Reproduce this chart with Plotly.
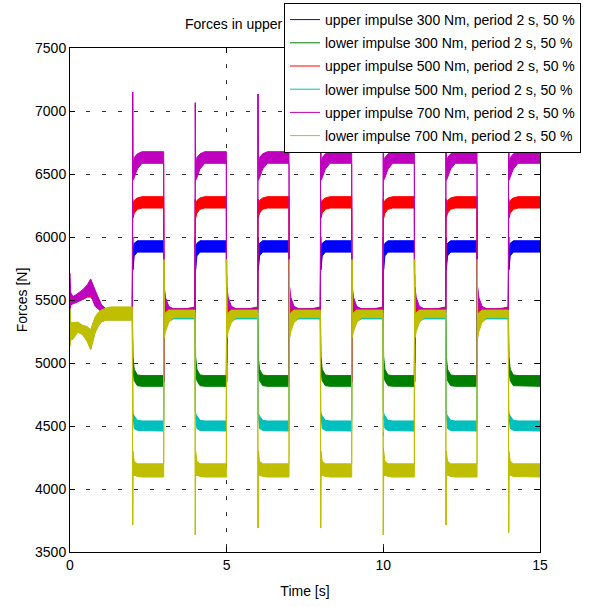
import plotly.graph_objects as go

# ---- series definitions -------------------------------------------------
series_names = [
    "upper impulse 300 Nm, period 2 s, 50 %",
    "lower impulse 300 Nm, period 2 s, 50 %",
    "upper impulse 500 Nm, period 2 s, 50 %",
    "lower impulse 500 Nm, period 2 s, 50 %",
    "upper impulse 700 Nm, period 2 s, 50 %",
    "lower impulse 700 Nm, period 2 s, 50 %",
]
series_colors = ["#0000ff", "#008000", "#ff0000", "#00bfbf", "#bf00bf", "#bfbf00"]

# impulse timing [s]
pulse_starts = [2, 4, 6, 8, 10, 12, 14]
t_end = 15

# start-up segment before the first impulse [s]
init_t = [0.0, 0.02, 0.1, 0.25, 0.4, 0.55, 0.66, 0.8, 0.9, 1.0, 1.15, 1.3, 1.99]

# oscillation envelopes (min / max force, N) during start-up
blue_init_lo = [5430, 5480, 5490, 5495, 5505, 5525, 5525, 5490, 5445, 5410, 5395, 5392, 5392]
blue_init_hi = [5550, 5520, 5520, 5525, 5535, 5560, 5580, 5540, 5500, 5450, 5425, 5425, 5425]
green_init_lo = [5200, 5200, 5210, 5250, 5230, 5180, 5120, 5250, 5300, 5330, 5345, 5345, 5345]
green_init_hi = [5400, 5310, 5300, 5310, 5290, 5270, 5240, 5350, 5390, 5410, 5425, 5430, 5430]
red_init_lo = [5430, 5480, 5485, 5495, 5505, 5525, 5525, 5485, 5445, 5410, 5395, 5392, 5392]
red_init_hi = [5620, 5550, 5530, 5535, 5550, 5585, 5620, 5565, 5520, 5460, 5428, 5428, 5428]
cyan_init_lo = [5150, 5190, 5205, 5248, 5228, 5175, 5110, 5245, 5295, 5328, 5342, 5342, 5342]
cyan_init_hi = [5420, 5320, 5310, 5318, 5295, 5280, 5255, 5358, 5395, 5415, 5430, 5440, 5440]
magenta_init_lo = [5420, 5460, 5470, 5485, 5500, 5525, 5540, 5450, 5430, 5405, 5395, 5390, 5390]
magenta_init_hi = [5714, 5560, 5525, 5555, 5580, 5620, 5667, 5580, 5520, 5460, 5430, 5430, 5430]
yellow_init_lo = [5130, 5180, 5190, 5245, 5225, 5170, 5105, 5240, 5290, 5325, 5340, 5340, 5340]
yellow_init_hi = [5436, 5320, 5320, 5325, 5300, 5290, 5265, 5365, 5400, 5420, 5436, 5445, 5445]

# one impulse cycle, times relative to the impulse start [s]
cycle_rel_t = [0.0, 0.01, 0.05, 0.15, 0.3, 0.99, 1.0, 1.01, 1.05, 1.15, 1.3, 1.99]

# oscillation envelopes (min / max force, N) over one cycle
blue_cycle_lo = [6000, 5740, 5850, 5880, 5880, 5880, 5150, 5400, 5395, 5395, 5395, 5395]
blue_cycle_hi = [6000, 5900, 5950, 5970, 5970, 5970, 5150, 5480, 5450, 5430, 5425, 5425]
green_cycle_lo = [5050, 4940, 4860, 4820, 4815, 4815, 5600, 5300, 5330, 5360, 5370, 5390]
green_cycle_hi = [5050, 5050, 4950, 4905, 4900, 4900, 5600, 5380, 5390, 5400, 5410, 5445]
red_cycle_lo = [6300, 6150, 6190, 6220, 6230, 6230, 5000, 5420, 5400, 5395, 5395, 5395]
red_cycle_hi = [6300, 6260, 6290, 6310, 6320, 6320, 5000, 5520, 5470, 5440, 5430, 5430]
cyan_cycle_lo = [4620, 4560, 4480, 4465, 4460, 4460, 5700, 5250, 5290, 5330, 5350, 5350]
cyan_cycle_hi = [4620, 4600, 4580, 4545, 4540, 4540, 5700, 5350, 5380, 5390, 5395, 5395]
magenta_cycle_lo = [None, 6450, 6470, 6540, 6585, 6585, 4850, 5480, 5440, 5410, 5400, 5400]
magenta_cycle_hi = [None, 6560, 6630, 6660, 6677, 6677, 4850, 5600, 5520, 5450, 5430, 5430]
yellow_cycle_lo = [None, 4100, 4110, 4100, 4095, 4095, 5820, 5200, 5250, 5320, 5360, 5360]
yellow_cycle_hi = [None, 4300, 4220, 4200, 4200, 4200, 5820, 5380, 5400, 5420, 5420, 5420]

# switching peaks of each impulse [N]
magenta_on_peak = [7150, 7065, 7135, 7100, 7110, 7090, 7120]
yellow_on_trough = [3714, 3635, 3690, 3690, 3635, 3714, 3655]


def envelope(init_lo, init_hi, cyc_lo, cyc_hi, switch_vals=None):
    """Assemble the min/max envelope of a force signal over the whole run."""
    t, lo, hi = list(init_t), list(init_lo), list(init_hi)
    for k, start in enumerate(pulse_starts):
        for j, rel in enumerate(cycle_rel_t):
            tt = start + rel
            if tt >= t_end:
                break
            l, h = cyc_lo[j], cyc_hi[j]
            if l is None:
                l = h = switch_vals[k]
            t.append(tt)
            lo.append(l)
            hi.append(h)
    t.append(t_end)
    lo.append(lo[-1])
    hi.append(hi[-1])
    return t, lo, hi


envelopes = [
    envelope(blue_init_lo, blue_init_hi, blue_cycle_lo, blue_cycle_hi),
    envelope(green_init_lo, green_init_hi, green_cycle_lo, green_cycle_hi),
    envelope(red_init_lo, red_init_hi, red_cycle_lo, red_cycle_hi),
    envelope(cyan_init_lo, cyan_init_hi, cyan_cycle_lo, cyan_cycle_hi),
    envelope(magenta_init_lo, magenta_init_hi, magenta_cycle_lo, magenta_cycle_hi, magenta_on_peak),
    envelope(yellow_init_lo, yellow_init_hi, yellow_cycle_lo, yellow_cycle_hi, yellow_on_trough),
]

fig = go.Figure()

# oscillation bands: drawn as closed min/max outlines
for (t, lo, hi), name, color in zip(envelopes, series_names, series_colors):
    fig.add_trace(go.Scatter(
        x=t + t[::-1], y=hi + lo[::-1],
        mode="lines", fill="toself", fillcolor=color,
        line=dict(color=color, width=1),
        name=name, showlegend=False, hoverinfo="skip",
    ))

# legend entries as plain line samples
for i, (name, color) in enumerate(zip(series_names, series_colors)):
    fig.add_trace(go.Scatter(
        x=[None], y=[None], mode="lines", name=name,
        line=dict(color=color, width=1), legendgroup=f"g{i}",
    ))

font_family = "Liberation Sans, Arial, sans-serif"

axis_common = dict(
    showline=True, linecolor="black", linewidth=1, mirror="ticks",
    ticks="inside", ticklen=5, tickcolor="black", tickwidth=1,
    showgrid=True, gridcolor="#303030", gridwidth=1, griddash="4px,12px",
    zeroline=False, tickfont=dict(size=14, color="black", family=font_family),
)

fig.update_layout(
    width=590, height=607,
    paper_bgcolor="white", plot_bgcolor="white",
    margin=dict(l=70, r=50, t=48, b=55, autoexpand=False),
    font=dict(family=font_family, size=14, color="black"),
    title=dict(
        text="Forces in upper",
        x=(185 - 70) / 470, xref="paper", y=(607 - 24) / 607, yref="container",
        xanchor="left", yanchor="middle",
        font=dict(size=14, color="black"),
    ),
    xaxis=dict(
        range=[0, 15], tickvals=[0, 5, 10, 15],
        title=dict(text="Time [s]", font=dict(size=14), standoff=14),
        **axis_common,
    ),
    yaxis=dict(
        range=[3500, 7500], dtick=500,
        title=dict(text="Forces [N]", font=dict(size=14), standoff=4),
        **axis_common,
    ),
    legend=dict(
        x=(284 - 70) / 470, y=(552 - 3) / 504, xanchor="left", yanchor="top",
        bgcolor="white", bordercolor="black", borderwidth=1,
        font=dict(size=14, color="black", family=font_family),
        traceorder="grouped", tracegroupgap=2,
        entrywidth=297, entrywidthmode="pixels",
    ),
    showlegend=True,
)

fig.write_html("out.html")
